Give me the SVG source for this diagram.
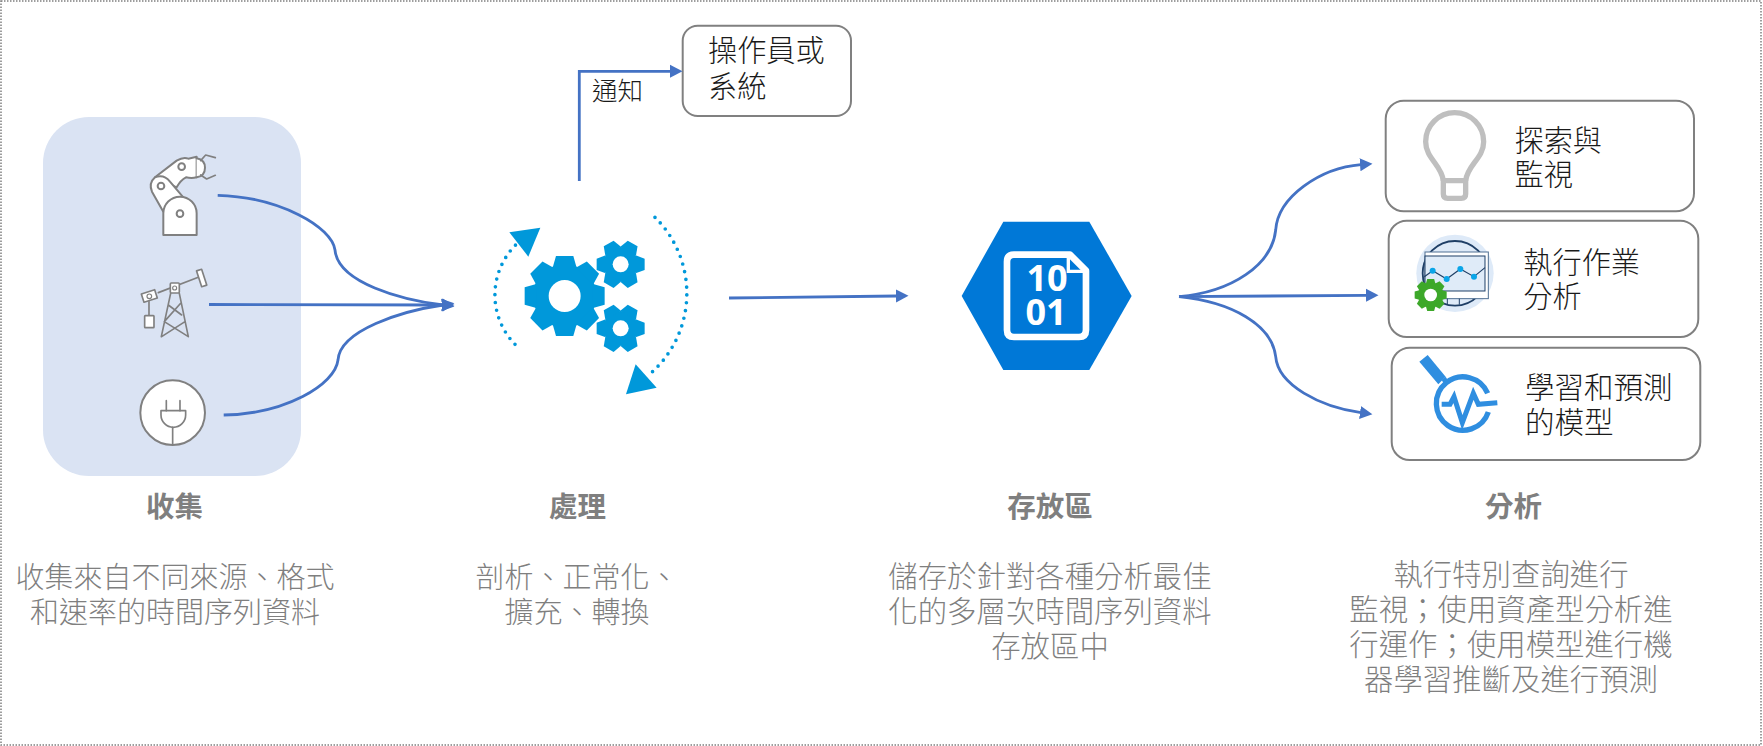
<svg xmlns="http://www.w3.org/2000/svg" xmlns:xlink="http://www.w3.org/1999/xlink" width="1763" height="746" viewBox="0 0 1763 746">
<style>
text{font-family:"Noto Sans CJK TC","Noto Sans",sans-serif;}
.box{fill:#fff;stroke:#808080;stroke-width:2}
.lbl{font-size:29.2px;fill:#1a1a1a;font-weight:300}
.head{font-size:28.5px;fill:#7f7f7f;font-weight:700;text-anchor:middle}
.body{font-size:29px;fill:#7f7f7f;font-weight:300;text-anchor:middle}
.wide{font-size:29.4px}
.conn{fill:none;stroke:#4472C4;stroke-width:2.8;marker-end:url(#arr)}
.ic{fill:#fff;stroke:#808080;stroke-width:6;stroke-linejoin:round;stroke-linecap:round}
.ln{fill:none;stroke:#808080;stroke-width:5;stroke-linejoin:round;stroke-linecap:round}
.dots{fill:none;stroke:#0098DA;stroke-width:11;stroke-linecap:round;stroke-dasharray:0 23.5}
</style>
<defs>
<marker id="arr" markerUnits="userSpaceOnUse" markerWidth="13" markerHeight="14" viewBox="0 0 13 14" refX="1" refY="7" orient="auto"><path d="M0,0.5L12.5,7L0,13.5Z" fill="#4472C4"/></marker>
<g id="gear8"><circle r="95"/><g id="t8"><polygon points="-26,-120 26,-120 36,-85 -36,-85"/></g>
<use xlink:href="#t8" transform="rotate(45)"/><use xlink:href="#t8" transform="rotate(90)"/><use xlink:href="#t8" transform="rotate(135)"/><use xlink:href="#t8" transform="rotate(180)"/><use xlink:href="#t8" transform="rotate(225)"/><use xlink:href="#t8" transform="rotate(270)"/><use xlink:href="#t8" transform="rotate(315)"/></g>
<g id="gear6"><circle r="52"/><g id="t6"><polygon points="-17,-72 17,-72 27,-45 -27,-45" transform="rotate(30)"/></g>
<use xlink:href="#t6" transform="rotate(60)"/><use xlink:href="#t6" transform="rotate(120)"/><use xlink:href="#t6" transform="rotate(180)"/><use xlink:href="#t6" transform="rotate(240)"/><use xlink:href="#t6" transform="rotate(300)"/></g>
</defs>
<rect width="1763" height="746" fill="#fff"/>
<rect x="1" y="1" width="1760" height="744" fill="none" stroke="#7f7f7f" stroke-width="1.5" stroke-dasharray="1.5 1.5"/>

<g id="collect">
<rect x="43" y="117" width="258" height="359" rx="46" fill="#DAE3F3"/>
<g transform="translate(20,100) scale(0.3333)">
<g id="robot">
<path class="ic" d="M498,232 Q515,236 530,232 V170 L505,176 Q490,170 470,182 L405,232 L470,262 Q482,240 498,232Z"/>
<path class="ic" d="M530,175 Q555,180 555,203 Q555,228 530,232"/>
<path class="ln" d="M542,182 L557,165 L586,173 M542,225 L560,237 L586,226"/>
<path class="ic" d="M430,335 L396,275 Q385,250 405,232 Q432,222 450,245 L490,292Z"/>
<path class="ic" d="M430,405 V340 A50,50 0 0 1 530,340 V405Z"/>
<circle class="ic" cx="480" cy="341" r="10"/><circle class="ic" cx="485" cy="200" r="10"/><circle class="ic" cx="423" cy="258" r="10"/>
</g>
<g id="pump">
<path class="ln" d="M415,578 L535,532 M387,605 V648 M424,710 L452,580 M505,710 L478,580 M445,615 L485,645 M482,610 L433,665 M433,665 L505,710 M495,665 L425,710"/>
<rect class="ic" style="stroke-width:5" x="451" y="549" width="27" height="30" rx="3"/>
<circle class="ic" style="stroke-width:3.5" cx="464" cy="564" r="6"/>
<rect class="ic" style="stroke-width:5" x="537" y="509" width="16" height="50" transform="rotate(-18 545 534)"/>
<rect class="ic" style="stroke-width:5" x="367" y="575" width="42" height="26" transform="rotate(-18 388 588)"/>
<circle class="ic" style="stroke-width:3.5" cx="388" cy="589" r="7"/>
<rect class="ic" style="stroke-width:5" x="374" y="647" width="28" height="36" rx="2"/>
</g>
<g id="plug">
<circle class="ic" cx="458" cy="938" r="97"/>
<path class="ln" d="M439,902 V932 M480,902 V932 M458,982 V1033"/>
<path class="ln" d="M423,932 H497 V945 A37,37 0 0 1 423,945Z"/>
</g>
</g>
</g>

<g id="process">
<g transform="translate(470,0) scale(0.3333)" fill="#0098DA">
<use xlink:href="#gear8" transform="translate(284,888)"/><circle cx="284" cy="888" r="48" fill="#fff"/>
<use xlink:href="#gear6" transform="translate(452,793)"/><circle cx="452" cy="793" r="24" fill="#fff"/>
<use xlink:href="#gear6" transform="translate(452,985)"/><circle cx="452" cy="985" r="24" fill="#fff"/>
<path class="dots" d="M135,1033 A212,212 0 0 1 140,732"/>
<path class="dots" d="M555,652 A320,320 0 0 1 540,1122"/>
<polygon points="118,697 211,683 175,770"/>
<polygon points="497,1093 560,1163 468,1183"/>
</g>
</g>

<g id="operator">
<rect class="box" x="682.7" y="25.7" width="168.3" height="90.3" rx="15"/>
<text class="lbl" x="708" y="61">操作員或</text>
<text class="lbl" x="708" y="97">系統</text>
</g>
<text id="notify" x="592" y="100" font-size="25.5" font-weight="300" fill="#1a1a1a">通知</text>

<g id="storage">
<g transform="translate(920,200) scale(0.3333)">
<polygon points="125,288 250,65 508,65 635,288 508,510 250,510" fill="#0078D7"/>
<path d="M282,164 H450 L498,212 V390 Q498,411 477,411 H282 Q261,411 261,390 V185 Q261,164 282,164Z" fill="none" stroke="#fff" stroke-width="20" stroke-linejoin="round"/>
<path d="M445,170 V214 H490" fill="none" stroke="#fff" stroke-width="10"/>
<g font-size="108" font-weight="700" fill="#fff" text-anchor="middle">
<text x="381" y="273" style="font-family:'Open Sans',sans-serif">10</text>
<text x="378" y="376" style="font-family:'Open Sans',sans-serif">01</text>
</g>
</g>
</g>

<g id="explore">
<rect class="box" x="1385.7" y="100.7" width="308.3" height="110.6" rx="18"/>
<g transform="translate(1370,90) scale(0.3333)" fill="none" stroke="#BFBFBF" stroke-width="16" stroke-linejoin="round">
<path d="M220,272 C215,225 167,205 167,155 A87,87 0 1 1 341,155 C341,205 292,225 287,272"/>
<path d="M220,272 H287 V312 Q287,325 274,325 H233 Q220,325 220,312Z"/>
</g>
<text class="lbl" x="1514.5" y="151">探索與</text>
<text class="lbl" x="1514.5" y="185">監視</text>
</g>

<g id="operations">
<rect class="box" x="1388.7" y="220.7" width="309.6" height="116.3" rx="18"/>
<g transform="translate(1405,230) scale(0.3333)">
<circle cx="150" cy="130" r="116" fill="#DEEAF8"/>
<circle cx="150" cy="130" r="97" fill="none" stroke="#1F3F66" stroke-width="5.5"/>
<rect x="60" y="66" width="190" height="140" fill="#fff" stroke="#4F6F92" stroke-width="3"/>
<rect x="60" y="78" width="180" height="105" fill="#DFEBF8" stroke="#1F3F66" stroke-width="3"/>
<path d="M127,206 V224 M163,206 V224" fill="none" stroke="#1F3F66" stroke-width="3"/>
<polyline points="58,140 83,122 125,147 166,117 207,140 240,113" fill="none" stroke="#1F3F66" stroke-width="3.5"/>
<g fill="#0AA5E8"><circle cx="83" cy="122" r="9"/><circle cx="125" cy="147" r="9"/><circle cx="166" cy="117" r="9"/><circle cx="207" cy="140" r="9"/></g>
<use xlink:href="#gear8" transform="translate(77,195) scale(0.4)" fill="#3DA82A"/><circle cx="77" cy="195" r="19" fill="#fff"/>
</g>
<text class="lbl" x="1523.3" y="273">執行作業</text>
<text class="lbl" x="1523.3" y="306.5">分析</text>
</g>

<g id="models">
<rect class="box" x="1391.7" y="347.7" width="308.6" height="112.3" rx="18"/>
<g transform="translate(1405,350) scale(0.3333)" fill="#2F8EE0">
<polygon points="43,35 68,15 122,80 100,103"/>
<path d="M110,90 L122,80 L128,90 L116,100Z"/>
<path d="M248,130 A80,80 0 1 0 250,186" fill="none" stroke="#2F8EE0" stroke-width="16"/>
<polyline points="110,163 135,163 147,140 172,218 205,130 220,163 277,158" fill="none" stroke="#2F8EE0" stroke-width="15"/>
</g>
<text class="lbl" x="1525" y="398" style="font-size:29.5px">學習和預測</text>
<text class="lbl" x="1525" y="433" style="font-size:29.5px">的模型</text>
</g>

<g id="connectors">
<path class="conn" d="M217.7,195.3 C280,197 332,227 335,250 C338,283 402,300 443,305"/>
<path class="conn" d="M209,304.5 L443,305"/>
<path class="conn" d="M223.7,415 C285,414 335,385 338,360 C340,330 402,311 443,305"/>
<path class="conn" d="M579.3,181 V71.3 H671"/>
<path class="conn" d="M729,298 L897,296"/>
<path class="conn" d="M1179,296.7 C1232,292 1272,265 1275.7,230 C1278,197 1320,168 1361,164.7"/>
<path class="conn" d="M1179,296.7 L1367,295.3"/>
<path class="conn" d="M1179,296.7 C1232,302 1272,325 1275.7,356.7 C1278,385 1320,407 1361,412.7"/>
</g>

<g id="captions">
<text class="head" x="174.5" y="517">收集</text>
<text class="body" x="175" y="587.5">收集來自不同來源、格式</text>
<text class="body" x="175" y="623">和速率的時間序列資料</text>
<text class="head" x="577.5" y="517">處理</text>
<text class="body" x="577" y="587.5">剖析、正常化、</text>
<text class="body" x="577" y="623">擴充、轉換</text>
<text class="head" x="1050" y="517">存放區</text>
<text class="body wide" x="1050" y="586.5">儲存於針對各種分析最佳</text>
<text class="body wide" x="1050" y="621.5">化的多層次時間序列資料</text>
<text class="body wide" x="1050" y="656.5">存放區中</text>
<text class="head" x="1513.5" y="517">分析</text>
<text class="body wide" x="1511" y="585">執行特別查詢進行</text>
<text class="body wide" x="1511" y="620">監視；使用資產型分析進</text>
<text class="body wide" x="1511" y="655">行運作；使用模型進行機</text>
<text class="body wide" x="1511" y="690">器學習推斷及進行預測</text>
</g>
</svg>
